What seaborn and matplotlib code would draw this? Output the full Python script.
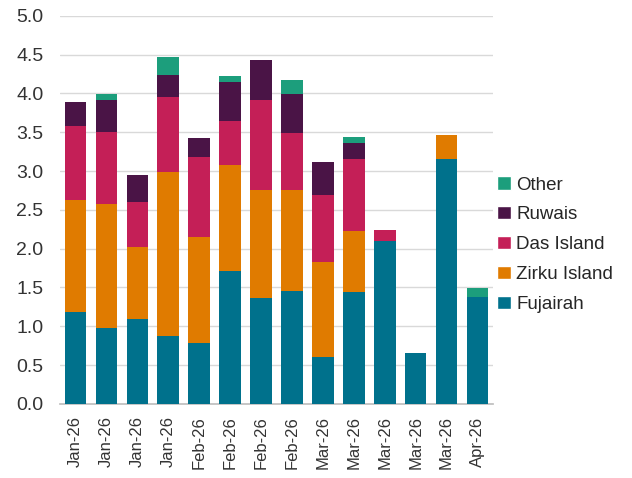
import numpy as np
import pandas as pd
import matplotlib
matplotlib.use("Agg")
import matplotlib.pyplot as plt
import seaborn as sns
from matplotlib.patches import Patch

labels = ["Jan-26", "Jan-26", "Jan-26", "Jan-26", "Feb-26", "Feb-26", "Feb-26",
          "Feb-26", "Mar-26", "Mar-26", "Mar-26", "Mar-26", "Mar-26", "Apr-26"]
fujairah = [1.18, 0.98, 1.09, 0.87, 0.78, 1.71, 1.37, 1.45, 0.60, 1.44, 2.10, 0.65, 3.16, 1.38]
zirku    = [1.45, 1.59, 0.93, 2.12, 1.37, 1.37, 1.39, 1.31, 1.23, 0.79, 0.00, 0.00, 0.30, 0.00]
das      = [0.95, 0.93, 0.58, 0.96, 1.03, 0.57, 1.15, 0.73, 0.86, 0.92, 0.14, 0.00, 0.00, 0.00]
ruwais   = [0.31, 0.42, 0.35, 0.29, 0.25, 0.50, 0.52, 0.50, 0.43, 0.21, 0.00, 0.00, 0.00, 0.00]
other    = [0.00, 0.07, 0.00, 0.23, 0.00, 0.07, 0.00, 0.18, 0.00, 0.08, 0.00, 0.00, 0.00, 0.11]

series = ["Fujairah", "Zirku Island", "Das Island", "Ruwais", "Other"]
colors = {"Fujairah": "#00718C", "Zirku Island": "#E07B00", "Das Island": "#C41F57",
          "Ruwais": "#4A1446", "Other": "#1C9E7C"}

df = pd.DataFrame({"pos": list(range(len(labels))), "Fujairah": fujairah,
                   "Zirku Island": zirku, "Das Island": das, "Ruwais": ruwais, "Other": other})
cum = df[series].cumsum(axis=1)

sns.set_theme(style="white")
plt.rcParams['font.family'] = ['Liberation Sans', 'DejaVu Sans']

fig = plt.figure(figsize=(6.32, 4.78), dpi=100)
ax = fig.add_axes([0.095, 0.155, 0.685, 0.812])

for s in reversed(series):
    sns.barplot(x=df["pos"], y=cum[s], color=colors[s], width=0.7,
                saturation=1, ax=ax, zorder=3, linewidth=0, edgecolor="none")

ax.set_ylim(0, 5)
ax.set_yticks(np.arange(0, 5.01, 0.5))
ax.set_yticklabels([f"{v:.1f}" for v in np.arange(0, 5.01, 0.5)], fontsize=14, color="#333333")
ax.set_xticks(range(len(labels)))
ax.set_xticklabels(labels, rotation=90, fontsize=12, color="#333333")
ax.set_xlim(-0.5, len(labels) - 0.5)
ax.set_xlabel("")
ax.set_ylabel("")
ax.grid(axis="y", color="#d9d9d9", linewidth=1, zorder=0)
ax.set_axisbelow(True)
for sp in ["top", "right", "left"]:
    ax.spines[sp].set_visible(False)
ax.spines["bottom"].set_color("#bfbfbf")
ax.tick_params(axis="y", length=0, pad=12)
ax.tick_params(axis="x", length=0, pad=9)

handles = [Patch(facecolor=colors[s], label=s) for s in reversed(series)]
ax.legend(handles=handles, loc="center left", bbox_to_anchor=(0.98, 0.41), frameon=False,
          fontsize=13.5, handlelength=0.7, handleheight=0.7, handletextpad=0.3,
          labelspacing=0.68, borderaxespad=0.3)

fig.savefig("out.png", dpi=100)
